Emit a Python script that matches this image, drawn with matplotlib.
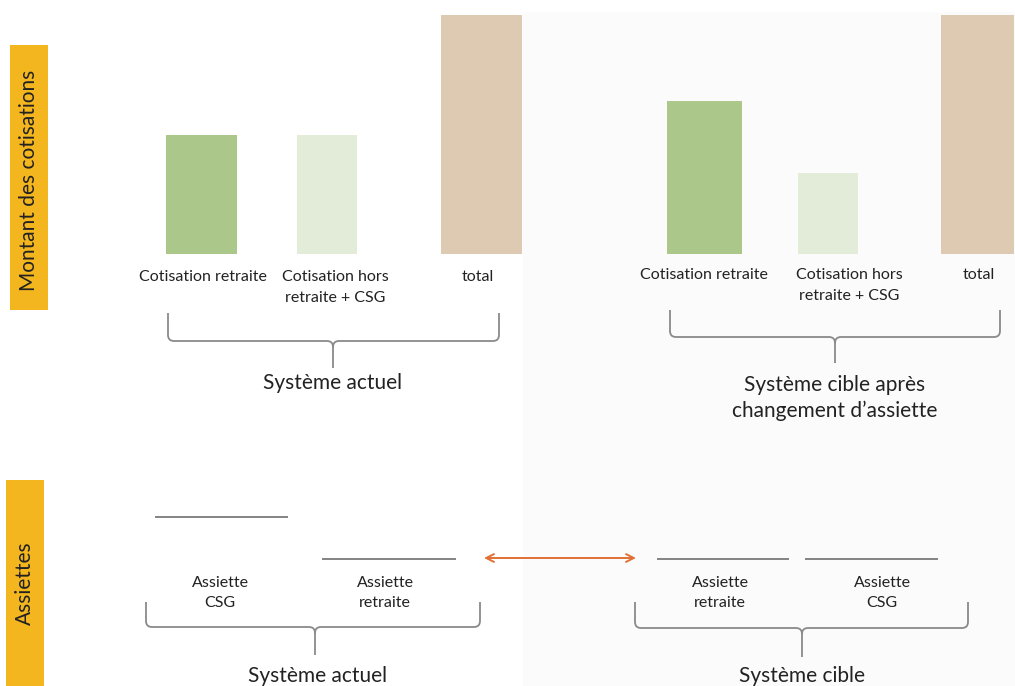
import matplotlib
matplotlib.use("Agg")
import matplotlib.pyplot as plt
from matplotlib.path import Path
from matplotlib.patches import PathPatch, Rectangle

plt.rcParams['font.family'] = ['Lato', 'DejaVu Sans']

# ---- data -------------------------------------------------------------
bar_labels = ["Cotisation retraite", "Cotisation hors\nretraite + CSG", "total"]
actuel_values = [1.0, 1.0, 2.0]
cible_values = [1.28, 0.68, 2.0]
bar_colors = ["#acc78a", "#e2ecd8", "#decab2"]

assiette_actuel_labels = ["Assiette\nCSG", "Assiette\nretraite"]
assiette_actuel_values = [1.0, 0.5]
assiette_cible_labels = ["Assiette\nretraite", "Assiette\nCSG"]
assiette_cible_values = [0.5, 0.5]

W, H = 1015, 686
TXT = "#222222"
fig = plt.figure(figsize=(W / 100, H / 100), dpi=100)

# overlay axes in pixel coordinates (y down)
ax = fig.add_axes([0, 0, 1, 1])
ax.set_xlim(0, W)
ax.set_ylim(H, 0)
ax.axis("off")

ax.add_patch(Rectangle((523, 12), W - 523, H - 12, color="#fbfbfb", lw=0, zorder=0))

# yellow side labels
ax.add_patch(Rectangle((10, 45), 38, 265, color="#f4b61e", lw=0))
ax.text(29, 180, "Montant des cotisations", rotation=90, ha="center", va="center",
        fontsize=15, color=TXT)
ax.add_patch(Rectangle((6, 480), 38, 206, color="#f4b61e", lw=0))
ax.text(25, 583, "Assiettes", rotation=90, ha="center", va="center",
        fontsize=15, color=TXT)


def brace(x0, x1, ytop, ybar, xmid, ytip, r=6):
    verts = [(x0, ytop), (x0, ybar - r), (x0, ybar), (x0 + r, ybar),
             (xmid - r, ybar), (xmid, ybar), (xmid, ybar + r),
             (xmid, ytip), (xmid, ybar + r),
             (xmid, ybar), (xmid + r, ybar),
             (x1 - r, ybar), (x1, ybar), (x1, ybar - r), (x1, ytop)]
    codes = [Path.MOVETO, Path.LINETO, Path.CURVE3, Path.CURVE3,
             Path.LINETO, Path.CURVE3, Path.CURVE3,
             Path.LINETO, Path.MOVETO,
             Path.CURVE3, Path.CURVE3,
             Path.LINETO, Path.CURVE3, Path.CURVE3, Path.LINETO]
    ax.add_patch(PathPatch(Path(verts, codes), fill=False, ec="#8a8a8a", lw=1.3))


# ---- top: cotisations -------------------------------------------------
bx = fig.add_axes([0, 1 - 254 / H, 1, (254 - 15) / H])
bx.set_facecolor("none")
bx.set_xlim(0, W)
bx.set_ylim(0, 2.0)
bx.axis("off")

actuel_x = [202, 327, 482]
actuel_w = [71, 60, 81]
cible_x = [705, 828, 978]
cible_w = [75, 60, 73]
bx.bar(actuel_x, actuel_values, width=actuel_w, color=bar_colors)
bx.bar(cible_x, cible_values, width=cible_w, color=bar_colors)

lab_actuel_x = [203, 335, 478]
lab_cible_x = [704, 849, 979]
for xs, y in ((lab_actuel_x, 270), (lab_cible_x, 268)):
    for x, t in zip(xs, bar_labels):
        ax.text(x, y, t, ha="center", va="top", fontsize=11.5, color=TXT,
                linespacing=1.6)

brace(168, 499, 313, 341, 333, 368)
ax.text(333, 383, "Système actuel", ha="center", va="center", fontsize=15,
        color=TXT)
brace(670, 1000, 310, 337, 835, 363)
ax.text(835, 398, "Système cible après\nchangement d\u2019assiette", ha="center",
        va="center", fontsize=15, color=TXT, linespacing=1.4)

# ---- bottom: assiettes -------------------------------------------------
sx = fig.add_axes([0, 1 - 600 / H, 1, 100 / H])
sx.set_facecolor("none")
sx.set_xlim(0, W)
sx.set_ylim(0, 100 / 83)
sx.axis("off")

sx.hlines(assiette_actuel_values, [155, 322], [288, 456], color="#7a7a7a", lw=1.3)
sx.hlines(assiette_cible_values, [657, 805], [789, 938], color="#7a7a7a", lw=1.3)

for x, t in zip([220, 385], assiette_actuel_labels):
    ax.text(x, 593, t, ha="center", va="center", fontsize=11.5, color=TXT,
            linespacing=1.6)
for x, t in zip([720, 882], assiette_cible_labels):
    ax.text(x, 593, t, ha="center", va="center", fontsize=11.5, color=TXT,
            linespacing=1.6)

ax.annotate("", xy=(484, 558), xytext=(636, 558),
            arrowprops=dict(arrowstyle="<->", color="#e07034", lw=1.4,
                            mutation_scale=14, shrinkA=0, shrinkB=0))

brace(146, 480, 602, 627, 315, 655)
ax.text(318, 676, "Système actuel", ha="center", va="center", fontsize=15,
        color=TXT)
brace(635, 968, 602, 628, 802, 657)
ax.text(802, 676, "Système cible", ha="center", va="center", fontsize=15,
        color=TXT)

fig.savefig("out.png", dpi=100)
